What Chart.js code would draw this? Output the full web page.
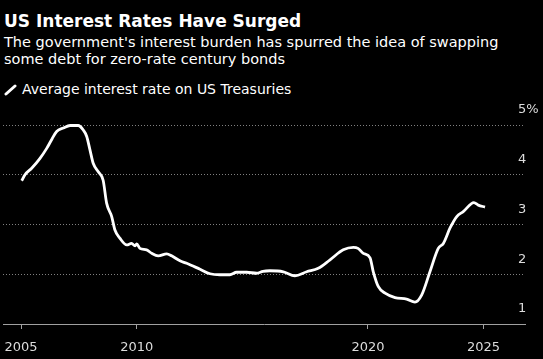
<!DOCTYPE html>
<html>
<head>
<meta charset="utf-8">
<script src="https://cdn.jsdelivr.net/npm/chart.js@4.4.1/dist/chart.umd.min.js"></script>
<style>
  html, body { margin: 0; padding: 0; background: #000; }
  body { width: 543px; height: 359px; position: relative; overflow: hidden; font-family: "DejaVu Sans", Verdana, sans-serif; color: #fff; }
  #title { position: absolute; left: 4px; top: 11px; font-size: 17px; line-height: 20px; font-weight: bold; white-space: nowrap; }
  #subtitle { position: absolute; left: 4px; top: 34px; font-size: 14.5px; line-height: 17px; white-space: nowrap; }
  #legend { position: absolute; left: 4px; top: 81px; font-size: 14px; line-height: 16px; white-space: nowrap; }
  #legend svg { position: absolute; left: 0; top: 3px; }
  #legend span { position: absolute; left: 18px; top: 0; }
  canvas { position: absolute; left: 0; top: 0; }
</style>
</head>
<body>
<div id="title">US Interest Rates Have Surged</div>
<div id="subtitle">The government's interest burden has spurred the idea of swapping<br>some debt for zero-rate century bonds</div>
<div id="legend">
  <svg width="14" height="12"><line x1="2" y1="10" x2="11" y2="2" stroke="#fff" stroke-width="3" stroke-linecap="round"/></svg>
  <span>Average interest rate on US Treasuries</span>
</div>
<canvas id="rateChart" width="543" height="359"></canvas>
<script>
// values (decimal year, percent)
const years = [2005.03, 2005.17, 2005.46, 2005.82, 2006.11, 2006.34, 2006.54, 2006.83, 2007.12, 2007.47,
    2007.69, 2007.84, 2007.98, 2008.12, 2008.34, 2008.55, 2008.70, 2008.92, 2009.06, 2009.28,
    2009.57, 2009.78, 2009.93, 2010.00, 2010.14, 2010.43, 2010.65, 2010.93, 2011.30, 2011.51,
    2011.87, 2012.16, 2012.74, 2013.17, 2013.60, 2014.03, 2014.32, 2014.76, 2015.19, 2015.46,
    2015.76, 2016.34, 2016.84, 2017.35, 2017.85, 2018.36, 2018.93, 2019.37, 2019.57, 2019.80,
    2020.09, 2020.23, 2020.45, 2020.74, 2021.17, 2021.67, 2022.03, 2022.32, 2022.68, 2023.04,
    2023.26, 2023.55, 2023.84, 2024.12, 2024.58, 2024.77, 2025.06];
const rates = [3.88, 4.00, 4.13, 4.33, 4.53, 4.72, 4.87, 4.94, 4.99, 4.99,
    4.90, 4.77, 4.50, 4.23, 4.06, 3.89, 3.43, 3.16, 2.89, 2.72,
    2.59, 2.62, 2.57, 2.61, 2.52, 2.49, 2.42, 2.37, 2.41, 2.37,
    2.27, 2.22, 2.10, 2.01, 1.99, 1.99, 2.04, 2.04, 2.02, 2.06,
    2.07, 2.05, 1.97, 2.05, 2.12, 2.29, 2.49, 2.54, 2.52, 2.42,
    2.33, 2.05, 1.75, 1.62, 1.53, 1.50, 1.44, 1.58, 2.05, 2.52,
    2.62, 2.93, 3.16, 3.26, 3.44, 3.39, 3.35];

const xTicks = [2005, 2010, 2020, 2025];
const yTicks = [1, 2, 3, 4, 5];

const points = years.map((y, i) => ({ x: y, y: rates[i] }));
const labelColor = '#dcdcdc';
const tickFont = { family: 'DejaVu Sans', size: 13 };

// left edge of the y labels should sit ~7px inside the plot's right edge
const measure = document.createElement('canvas').getContext('2d');
measure.font = '13px "DejaVu Sans"';
const widestY = measure.measureText('5%').width;

new Chart(document.getElementById('rateChart'), {
    type: 'line',
    data: {
        datasets: [{
            label: 'Average interest rate on US Treasuries',
            data: points,
            borderColor: '#ffffff',
            borderWidth: 2.8,
            pointRadius: 0,
            cubicInterpolationMode: 'monotone',
            clip: false
        }]
    },
    options: {
        responsive: false,
        animation: false,
        layout: { padding: { top: 125, left: 3, right: 0, bottom: 0 } },
        plugins: {
            legend: { display: false },
            tooltip: { enabled: false }
        },
        scales: {
            x: {
                type: 'linear',
                min: 2004.22,
                max: 2026.79,
                afterBuildTicks: (scale) => { scale.ticks = xTicks.map(v => ({ value: v })); },
                afterFit: (scale) => {
                    scale.height = 35;
                    // labels fit anyway, keep the plot edges where they are
                    scale.paddingLeft = 0;
                    scale.paddingRight = 0;
                },
                grid: { drawOnChartArea: false, drawTicks: true, tickLength: 5, color: '#a0a0a0' },
                border: { display: true, color: '#a0a0a0', width: 1 },
                ticks: {
                    color: labelColor,
                    padding: 11,
                    maxRotation: 0,
                    font: tickFont,
                    callback: (v) => String(v)
                }
            },
            y: {
                position: 'right',
                min: 1,
                max: 5,
                afterBuildTicks: (scale) => { scale.ticks = yTicks.map(v => ({ value: v })); },
                afterFit: (scale) => { scale.width = 18; },
                grid: {
                    drawTicks: false,
                    color: (ctx) => ctx.tick && ctx.tick.value === 1 ? 'rgba(0,0,0,0)' : '#808080',
                    lineWidth: 1
                },
                border: { display: false, dash: [1, 2] },
                ticks: {
                    mirror: true,
                    crossAlign: 'far',
                    color: labelColor,
                    padding: widestY - 7,
                    labelOffset: -15,
                    font: tickFont,
                    callback: (v) => v === 5 ? '5%' : String(v)
                }
            }
        }
    }
});
</script>
</body>
</html>
